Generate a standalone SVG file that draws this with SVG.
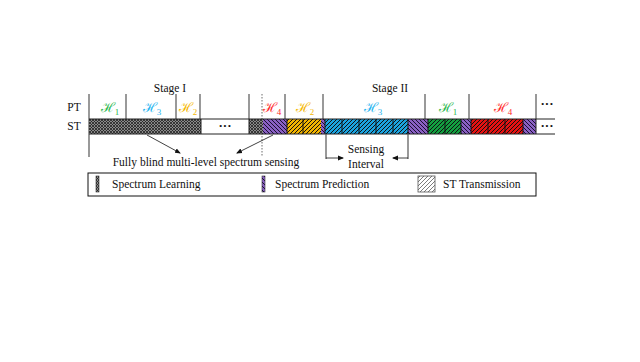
<svg xmlns="http://www.w3.org/2000/svg" width="640" height="362" viewBox="0 0 640 362">
<style>
text{font-family:"Liberation Serif","Times New Roman",serif;font-size:11.5px;fill:#111}
.h{font-family:"DejaVu Serif","Liberation Serif",serif;font-size:13.5px}
.sub{font-family:"Liberation Serif",serif;font-size:9px}
.dots{font-size:13px;font-weight:bold}
.vl{stroke:#555;stroke-width:1.2;fill:none}
.bd{stroke:#111;stroke-width:1;fill:none}
.ar{stroke:#111;stroke-width:0.8;fill:none;marker-end:url(#ah)}
</style>
<defs>
<marker id="ah" markerWidth="6" markerHeight="6" refX="5" refY="3" orient="auto" markerUnits="userSpaceOnUse"><path d="M0,0.5 L6,3 L0,5.5 z" fill="#111"/></marker>
<pattern id="learn" width="3" height="3" patternUnits="userSpaceOnUse">
<rect width="3" height="3" fill="#8a8a8a"/>
<path d="M0,0 L3,3 M0,3 L3,0" stroke="#222" stroke-width="0.8"/>
</pattern>
<pattern id="pred" width="4" height="4" patternUnits="userSpaceOnUse">
<rect width="4" height="4" fill="#8a60c4"/>
<path d="M0,0 L4,4 M-1,3 L1,5 M3,-1 L5,1" stroke="#1a1030" stroke-width="1"/>
</pattern>
<pattern id="tb" width="4" height="4" patternUnits="userSpaceOnUse"><rect width="4" height="4" fill="#1ba3e0"/><path d="M0,4 L4,0 M-1,1 L1,-1 M3,5 L5,3" stroke="#111" stroke-width="1"/></pattern>
<pattern id="ty" width="4" height="4" patternUnits="userSpaceOnUse"><rect width="4" height="4" fill="#f2b400"/><path d="M0,4 L4,0 M-1,1 L1,-1 M3,5 L5,3" stroke="#111" stroke-width="1"/></pattern>
<pattern id="tg" width="4" height="4" patternUnits="userSpaceOnUse"><rect width="4" height="4" fill="#12a040"/><path d="M0,4 L4,0 M-1,1 L1,-1 M3,5 L5,3" stroke="#111" stroke-width="1"/></pattern>
<pattern id="tr" width="4" height="4" patternUnits="userSpaceOnUse"><rect width="4" height="4" fill="#e81212"/><path d="M0,4 L4,0 M-1,1 L1,-1 M3,5 L5,3" stroke="#111" stroke-width="1"/></pattern>
<pattern id="tw" width="4" height="4" patternUnits="userSpaceOnUse"><rect width="4" height="4" fill="#fff"/><path d="M0,4 L4,0 M-1,1 L1,-1 M3,5 L5,3" stroke="#444" stroke-width="0.7"/></pattern>
</defs>

<g id="labels">
<text x="170" y="92" text-anchor="middle">Stage I</text>
<text x="390" y="92" text-anchor="middle">Stage II</text>
<text x="74" y="111" text-anchor="middle">PT</text>
<text x="74" y="130" text-anchor="middle">ST</text>
</g>

<g id="pt-row">
<line class="vl" x1="89" y1="94" x2="89" y2="157"/>
<line class="vl" x1="126" y1="94" x2="126" y2="119"/>
<line class="vl" x1="176" y1="94" x2="176" y2="119"/>
<line class="vl" x1="200" y1="94" x2="200" y2="119"/>
<line class="vl" x1="249" y1="94" x2="249" y2="119"/>
<line x1="262" y1="94" x2="262" y2="157" stroke="#444" stroke-width="0.8" stroke-dasharray="1.5,1.5"/>
<line class="vl" x1="285" y1="94" x2="285" y2="119"/>
<line class="vl" x1="323" y1="94" x2="323" y2="119"/>
<line class="vl" x1="425" y1="94" x2="425" y2="119"/>
<line class="vl" x1="469" y1="94" x2="469" y2="119"/>
<line class="vl" x1="536" y1="94" x2="536" y2="119"/>
<text class="h" x="110" y="112" text-anchor="middle" style="fill:#2db84e">ℋ<tspan class="sub" dy="3" style="fill:#2db84e">1</tspan></text>
<text class="h" x="152" y="112" text-anchor="middle" style="fill:#26b4f0">ℋ<tspan class="sub" dy="3" style="fill:#26b4f0">3</tspan></text>
<text class="h" x="188" y="112" text-anchor="middle" style="fill:#f5b800">ℋ<tspan class="sub" dy="3" style="fill:#f5b800">2</tspan></text>
<text class="h" x="272" y="112" text-anchor="middle" style="fill:#ff2a2a">ℋ<tspan class="sub" dy="3" style="fill:#ff2a2a">4</tspan></text>
<text class="h" x="305" y="112" text-anchor="middle" style="fill:#f5b800">ℋ<tspan class="sub" dy="3" style="fill:#f5b800">2</tspan></text>
<text class="h" x="373" y="112" text-anchor="middle" style="fill:#26b4f0">ℋ<tspan class="sub" dy="3" style="fill:#26b4f0">3</tspan></text>
<text class="h" x="448" y="112" text-anchor="middle" style="fill:#2db84e">ℋ<tspan class="sub" dy="3" style="fill:#2db84e">1</tspan></text>
<text class="h" x="503" y="112" text-anchor="middle" style="fill:#ff2a2a">ℋ<tspan class="sub" dy="3" style="fill:#ff2a2a">4</tspan></text>
<text class="dots" x="547" y="108" text-anchor="middle">···</text>
</g>

<g id="st-row">
<rect x="89" y="119" width="112" height="15" fill="url(#learn)"/>
<rect x="201" y="119" width="48" height="15" fill="#fff"/>
<text class="dots" x="225" y="130" text-anchor="middle">···</text>
<rect x="249" y="119" width="14" height="15" fill="url(#learn)"/>
<rect x="263" y="119" width="24" height="15" fill="url(#pred)"/>
<rect x="287" y="119" width="16" height="15" fill="url(#ty)"/>
<rect x="303" y="119" width="18" height="15" fill="url(#ty)"/>
<rect x="321" y="119" width="4" height="15" fill="url(#pred)"/>
<rect x="325" y="119" width="17" height="15" fill="url(#tb)"/>
<rect x="342" y="119" width="17" height="15" fill="url(#tb)"/>
<rect x="359" y="119" width="17" height="15" fill="url(#tb)"/>
<rect x="376" y="119" width="17" height="15" fill="url(#tb)"/>
<rect x="393" y="119" width="15" height="15" fill="url(#tb)"/>
<rect x="408" y="119" width="20" height="15" fill="url(#pred)"/>
<rect x="428" y="119" width="17" height="15" fill="url(#tg)"/>
<rect x="445" y="119" width="16" height="15" fill="url(#tg)"/>
<rect x="461" y="119" width="10" height="15" fill="url(#pred)"/>
<rect x="471" y="119" width="17" height="15" fill="url(#tr)"/>
<rect x="488" y="119" width="17" height="15" fill="url(#tr)"/>
<rect x="505" y="119" width="18" height="15" fill="url(#tr)"/>
<rect x="523" y="119" width="13" height="15" fill="url(#pred)"/>
<text class="dots" x="547" y="130" text-anchor="middle">···</text>
<path class="bd" d="M303,119 V134 M342,119 V134 M359,119 V134 M376,119 V134 M393,119 V134 M445,119 V134 M488,119 V134 M505,119 V134 M287,119 V134 M325,119 V134 M408,119 V134 M428,119 V134 M461,119 V134 M471,119 V134 M523,119 V134"/>
<line x1="89" y1="119" x2="555" y2="119" stroke="#222" stroke-width="1"/>
<line x1="89" y1="134" x2="555" y2="134" stroke="#222" stroke-width="1"/>
<line x1="201" y1="119" x2="201" y2="134" stroke="#222" stroke-width="1"/>
<line x1="249" y1="119" x2="249" y2="134" stroke="#222" stroke-width="1"/>
<line x1="536" y1="119" x2="536" y2="134" stroke="#222" stroke-width="1"/>
</g>

<g id="connectors">
<line class="ar" x1="147" y1="135" x2="180" y2="153"/>
<line class="ar" x1="273" y1="135" x2="237" y2="153"/>
<line class="vl" x1="326" y1="134" x2="326" y2="159"/>
<line class="vl" x1="408" y1="134" x2="408" y2="159"/>
<line class="ar" x1="326" y1="158" x2="343" y2="158"/>
<line class="ar" x1="408" y1="158" x2="393" y2="158"/>
</g>

<g id="annotations">
<text x="206" y="166" text-anchor="middle">Fully blind multi-level spectrum sensing</text>
<text x="366" y="153" text-anchor="middle">Sensing</text>
<text x="366" y="168" text-anchor="middle">Interval</text>
</g>

<g id="legend">
<rect x="88" y="173" width="448" height="23" fill="#fff" stroke="#111" stroke-width="1"/>
<rect x="96" y="176" width="3" height="16" fill="url(#learn)" stroke="#333" stroke-width="0.6"/>
<text x="112" y="188">Spectrum Learning</text>
<rect x="262" y="176" width="3" height="16" fill="url(#pred)" stroke="#333" stroke-width="0.6"/>
<text x="275" y="188">Spectrum Prediction</text>
<rect x="418" y="176" width="17" height="16" fill="url(#tw)" stroke="#555" stroke-width="0.8"/>
<text x="443" y="188">ST Transmission</text>
</g>
</svg>
